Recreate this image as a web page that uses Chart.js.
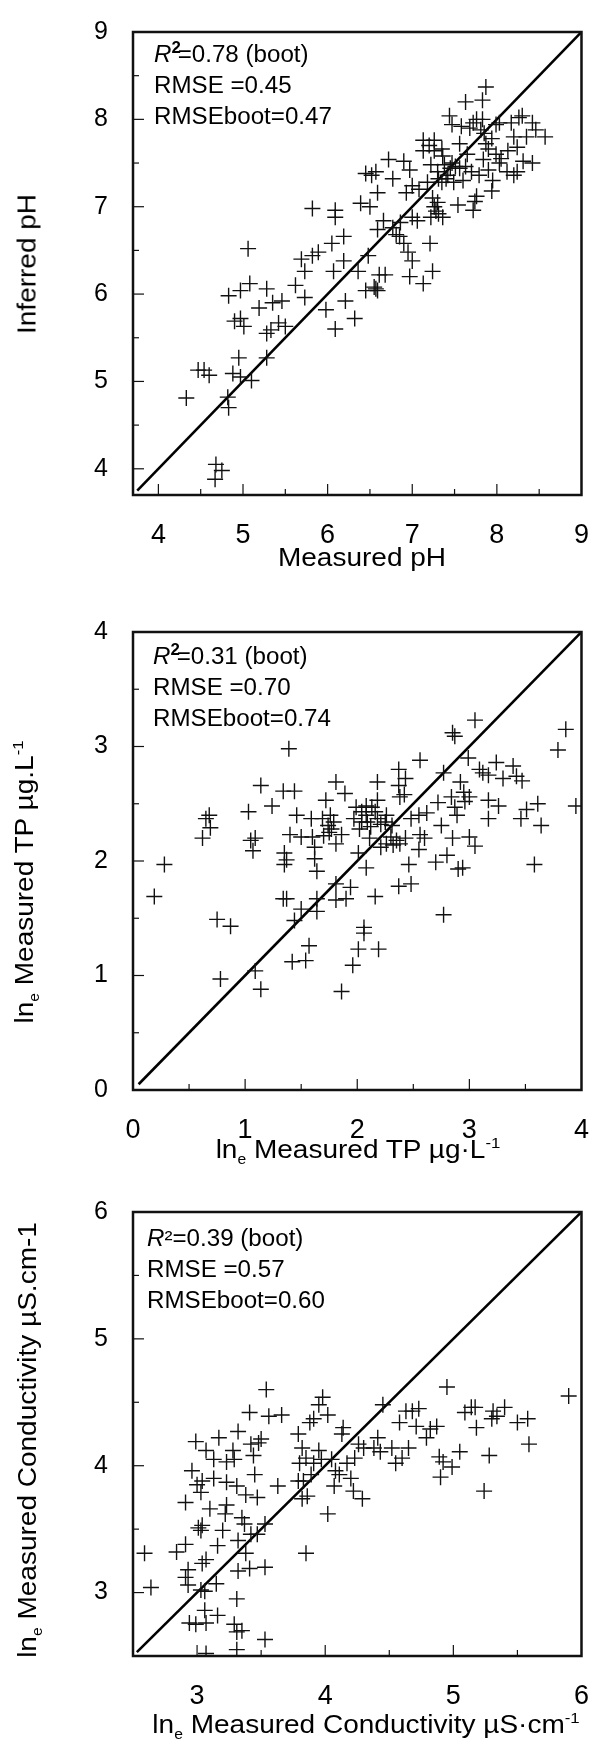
<!DOCTYPE html>
<html>
<head>
<meta charset="utf-8">
<script src="https://cdn.jsdelivr.net/npm/chart.js@4.4.1/dist/chart.umd.min.js"></script>
<style>
  body { margin: 0; background: #fff; }
  #page { position: relative; width: 605px; height: 1739px; overflow: hidden;
          font-family: "Liberation Sans", Arial, sans-serif; color: #000; }
  canvas { position: absolute; left: 0; }
  .tx { position: absolute; white-space: nowrap; font-size: 25px;
        transform: translate(-50%, -50%) scaleX(1.12); }
  .ty { position: absolute; white-space: nowrap; font-size: 25px;
        transform: translate(-50%, -50%) rotate(-90deg) scaleX(1.12); }
  .st { position: absolute; white-space: nowrap; font-size: 23px; line-height: 31px;
        transform: scaleX(1.05); transform-origin: 0 0; }
  .st sup.b { font-weight: bold; font-size: 16px; line-height: 0; margin-right: -3px; }
  sub { font-size: 14px; line-height: 0; }
  sup { font-size: 15px; line-height: 0; }
</style>
</head>
<body>
<div id="page">
  <canvas id="c1" width="605" height="560" style="top:0px"></canvas>
  <canvas id="c2" width="605" height="540" style="top:600px"></canvas>
  <canvas id="c3" width="605" height="530" style="top:1180px"></canvas>

  <div class="st" style="left:154px;top:39px"><i>R</i><sup class="b">2</sup>=0.78 (boot)<br>RMSE =0.45<br>RMSEboot=0.47</div>
  <div class="st" style="left:153px;top:641px"><i>R</i><sup class="b">2</sup>=0.31 (boot)<br>RMSE =0.70<br>RMSEboot=0.74</div>
  <div class="st" style="left:147px;top:1223px"><i>R</i>²=0.39 (boot)<br>RMSE =0.57<br>RMSEboot=0.60</div>

  <div class="tx" style="left:362px;top:557px">Measured pH</div>
  <div class="tx" style="left:358px;top:1149px">ln<sub>e</sub> Measured TP µg·L<sup>-1</sup></div>
  <div class="tx" style="left:366px;top:1724px">ln<sub>e</sub> Measured Conductivity µS·cm<sup>-1</sup></div>

  <div class="ty" style="left:27px;top:264px">Inferred pH</div>
  <div class="ty" style="left:24px;top:882px">ln<sub>e</sub> Measured TP µg.L<sup>-1</sup></div>
  <div class="ty" style="left:27px;top:1440px">ln<sub>e</sub> Measured Conductivity µS.cm-1</div>
</div>

<script>
// --- panel 1 : pH ---
const phRange = [3.7, 9];
const phMajor = [4, 5, 6, 7, 8];
const phMinor = [4.5, 5.5, 6.5, 7.5, 8.5];
const phMeasured = [4.33,4.68,4.75,4.67,4.82,4.83,4.47,4.54,4.60,4.95,4.88,4.97,5.10,5.28,4.83,4.97,5.08,5.28,5.06,4.90,
  4.97,5.01,5.19,5.35,5.46,5.28,5.33,5.42,5.50,5.62,5.73,5.69,5.73,5.82,5.89,5.82,6.09,6.09,5.98,6.09,
  6.21,6.32,6.05,6.19,6.07,6.19,6.36,6.48,6.57,6.59,6.45,6.61,6.68,6.39,6.50,6.59,6.52,6.45,6.57,6.72,
  6.77,6.90,6.97,7.00,6.93,6.59,6.66,6.77,6.81,6.86,6.90,6.95,7.00,6.97,7.00,7.06,7.13,7.24,7.21,7.22,
  7.24,7.26,7.36,7.31,7.38,7.45,7.51,7.31,7.40,7.49,7.26,7.35,7.13,7.20,7.13,7.26,7.22,7.54,7.72,7.74,
  7.76,7.56,7.63,7.70,7.79,7.56,7.58,7.47,7.63,7.83,7.87,7.72,7.76,7.83,7.81,7.85,7.87,7.90,7.94,7.99,
  8.03,8.17,7.99,8.13,8.03,8.20,8.24,8.26,8.30,8.42,8.46,8.35,8.57,8.24,8.20,8.31,8.42,7.94,7.90,7.44,
  7.35,7.42,7.47,7.30,7.18,7.08,7.68,7.65,7.84,8.05,7.30,7.28,6.85,6.55,7.36,7.60,7.95,8.12];
const phInferred = [4.81,4.05,3.98,3.88,4.82,4.70,5.13,5.13,5.07,5.27,5.09,5.05,5.01,5.27,5.98,6.04,6.12,6.06,6.52,5.69,
  5.72,5.63,5.84,5.90,5.92,5.55,5.59,5.67,5.63,6.10,5.96,6.40,6.26,6.44,6.48,6.98,6.96,6.88,5.82,5.60,
  5.92,5.72,6.58,6.66,6.26,6.38,6.26,6.44,6.06,6.04,6.04,6.22,6.22,7.04,7.00,7.16,7.36,7.38,7.40,7.54,
  7.32,7.52,7.42,7.24,7.16,6.74,6.84,6.76,6.68,6.82,6.58,6.48,6.38,6.20,6.88,6.84,6.12,6.26,6.58,6.88,
  7.10,7.00,6.88,6.92,7.48,7.44,7.46,7.32,7.32,7.28,7.64,7.66,7.76,7.70,7.64,7.76,7.48,7.02,6.96,7.06,
  7.12,7.44,7.46,7.40,7.36,7.72,7.92,7.94,8.20,8.22,8.37,7.96,8.00,8.00,7.88,7.84,7.72,7.66,7.78,7.94,
  7.96,7.96,7.60,7.64,7.50,7.80,7.68,8.02,8.04,7.96,7.88,7.80,7.80,7.40,7.36,7.52,7.50,7.18,7.42,8.04,
  7.28,7.36,7.50,7.40,7.28,7.20,7.90,7.60,7.54,7.55,7.05,6.95,6.66,6.08,7.58,7.30,7.30,7.40];

// --- panel 2 : total phosphorus ---
const tpRange = [0, 4];
const tpMajor = [1, 2, 3];
const tpMinor = [0.5, 1.5, 2.5, 3.5];
const tpX = [0.19,0.28,0.62,0.65,0.68,0.69,0.75,0.87,0.78,1.03,1.05,1.07,1.09,1.09,1.14,1.14,1.24,1.34,1.44,1.39,
  1.35,1.35,1.37,1.34,1.37,1.40,1.46,1.50,1.44,1.50,1.42,1.54,1.57,1.59,1.60,1.62,1.62,1.64,1.64,1.64,
  1.69,1.72,1.74,1.77,1.81,1.79,1.76,1.81,1.81,1.81,1.90,1.94,1.86,1.89,1.86,1.96,2.01,2.06,2.06,1.99,
  2.04,2.08,2.13,2.18,2.04,2.09,2.01,2.08,2.11,2.18,2.18,2.25,2.26,2.16,2.19,2.21,2.26,2.30,2.37,2.37,
  2.38,2.43,2.35,2.38,2.43,2.37,2.48,2.46,2.48,2.56,2.55,2.62,2.56,2.60,2.72,2.70,2.77,2.75,2.77,2.80,
  2.85,2.87,2.84,2.87,2.89,2.92,2.94,2.90,2.99,3.00,3.00,3.05,3.05,3.09,3.12,3.17,3.17,3.17,3.24,3.26,
  3.30,3.39,3.42,3.47,3.46,3.51,3.58,3.61,3.64,3.79,3.86,3.95,
  1.97,2.02,2.08,2.16,2.21,2.31,2.12,1.75,1.70,2.95,2.55,2.32,2.42,2.96,2.85];
const tpY = [1.69,1.97,2.20,2.37,2.40,2.29,1.49,1.43,0.97,2.43,2.18,2.09,2.20,1.04,0.88,2.66,2.48,2.61,2.61,2.98,
  2.07,1.97,2.01,1.67,1.67,2.23,2.40,2.21,1.48,1.58,1.12,1.13,1.26,2.37,2.21,2.12,2.02,1.91,1.67,1.56,
  2.37,2.53,2.31,2.28,2.69,2.34,2.40,2.15,1.80,1.66,1.67,1.77,0.86,2.59,2.23,1.09,1.23,1.37,1.42,2.47,
  2.43,2.40,2.47,2.37,2.34,2.34,2.07,1.94,2.20,2.69,2.53,2.34,2.40,1.69,1.23,2.12,2.15,2.21,2.80,2.66,
  2.56,2.72,2.18,2.15,2.20,1.78,1.80,1.97,2.37,2.88,2.40,2.42,2.23,2.20,2.51,1.99,2.77,2.31,1.53,2.05,
  3.12,3.09,2.56,2.47,2.40,2.69,1.94,1.93,2.90,2.56,2.21,2.13,3.23,2.80,2.77,2.75,2.53,2.37,2.86,2.48,
  2.72,2.83,2.74,2.70,2.37,2.45,1.97,2.50,2.31,2.97,3.15,2.48,
  2.37,2.28,2.48,2.43,2.32,2.31,2.30,2.25,2.22,2.60,2.10,2.14,2.58,2.52,2.20];

// --- panel 3 : conductivity ---
const condRange = [2.5, 6];
const condMajor = [3, 4, 5];
const condMinor = [3.5, 4.5, 5.5];
const condX = [2.59,2.64,2.84,2.91,2.91,2.93,2.91,2.93,2.94,2.99,2.96,2.99,3.01,3.03,3.04,3.00,3.04,3.03,3.04,3.07,
  3.03,3.06,3.06,3.07,3.07,3.07,3.10,3.13,3.13,3.16,3.15,3.16,3.17,3.20,3.22,3.23,3.23,3.23,3.28,3.29,
  3.31,3.32,3.32,3.32,3.31,3.29,3.31,3.31,3.35,3.35,3.37,3.38,3.38,3.41,3.41,3.42,3.44,3.45,3.47,3.48,
  3.50,3.42,3.47,3.53,3.53,3.53,3.54,3.56,3.66,3.63,3.79,3.82,3.85,3.79,3.80,3.83,3.85,3.82,3.86,3.88,
  3.91,3.95,3.98,4.02,3.89,3.91,3.95,3.97,4.02,4.05,4.08,4.07,4.11,4.13,4.14,4.17,4.20,4.22,4.23,4.26,
  4.29,4.30,4.38,4.41,4.43,4.45,4.52,4.55,4.58,4.60,4.63,4.65,4.68,4.71,4.73,4.79,4.82,4.87,4.89,4.90,
  4.92,4.95,4.99,5.05,5.09,5.14,5.18,5.17,5.24,5.28,5.30,5.31,5.34,5.40,5.50,5.58,5.59,5.90];
const condY = [3.31,3.04,3.32,3.38,3.71,3.18,3.12,3.06,2.76,2.75,3.96,4.19,3.51,3.49,3.53,3.85,3.88,3.79,3.23,3.26,
  3.02,3.01,2.86,2.76,2.52,4.12,3.66,4.05,3.90,3.37,3.07,2.82,4.22,3.49,3.62,3.69,3.87,4.03,4.12,4.05,
  3.84,4.27,3.41,3.17,2.95,2.75,2.69,2.55,2.70,3.59,3.54,3.31,3.77,3.19,4.42,4.17,4.08,3.93,3.75,4.18,
  4.21,3.46,3.46,3.54,3.20,2.63,4.60,4.39,4.40,3.84,4.25,4.14,4.06,3.88,4.02,3.88,3.31,3.74,3.76,4.34,
  4.37,4.48,4.54,4.40,3.93,4.02,4.12,4.05,3.62,4.05,3.96,3.84,3.93,4.25,4.30,4.02,3.90,3.80,4.06,4.17,
  3.74,4.14,4.14,4.22,4.11,4.48,4.14,4.02,4.34,4.06,4.43,4.14,4.43,4.31,4.45,4.22,4.29,4.31,4.07,3.91,
  4.03,4.62,3.99,4.11,4.42,4.46,4.30,4.46,3.80,4.08,4.37,4.43,4.39,4.46,4.34,4.37,4.17,4.55];

// 枠と内向きの目盛りを描く
const framePlugin = {
  id: 'frame',
  afterDatasetsDraw(chart, args, opts) {
    const { ctx, chartArea: a, scales } = chart;
    const x = scales.x, y = scales.y;
    ctx.save();
    ctx.strokeStyle = '#111';
    ctx.lineWidth = 1.2;
    const seg = (x1, y1, x2, y2) => { ctx.beginPath(); ctx.moveTo(x1, y1); ctx.lineTo(x2, y2); ctx.stroke(); };
    opts.major.forEach(v => {
      seg(x.getPixelForValue(v), a.bottom, x.getPixelForValue(v), a.bottom - 11);
      seg(a.left, y.getPixelForValue(v), a.left + 11, y.getPixelForValue(v));
    });
    opts.minor.forEach(v => {
      seg(x.getPixelForValue(v), a.bottom, x.getPixelForValue(v), a.bottom - 6);
      seg(a.left, y.getPixelForValue(v), a.left + 6, y.getPixelForValue(v));
    });
    ctx.lineWidth = 2.5;
    ctx.strokeRect(a.left, a.top, a.right - a.left, a.bottom - a.top);
    ctx.restore();
  }
};

function makePanel(id, xs, ys, range, lineStart, major, minor, pad, xAxisH) {
  const pts = xs.map((v, i) => ({ x: v, y: ys[i] }));
  const tickFont = { family: '"Liberation Sans", Arial, sans-serif' };
  return new Chart(document.getElementById(id), {
    type: 'scatter',
    data: {
      datasets: [{
        data: pts,
        pointStyle: 'cross',
        pointRadius: 8,
        pointHoverRadius: 8,
        borderWidth: 1.4,
        borderColor: '#111',
        backgroundColor: '#111'
      }, {
        data: [{ x: lineStart, y: lineStart }, { x: range[1], y: range[1] }],
        showLine: true,
        borderColor: '#000',
        borderWidth: 2.6,
        pointRadius: 0
      }]
    },
    options: {
      responsive: false,
      animation: false,
      events: [],
      layout: { padding: pad },
      plugins: {
        legend: { display: false },
        tooltip: { enabled: false },
        frame: { major: major, minor: minor }
      },
      scales: {
        x: {
          type: 'linear', min: range[0], max: range[1],
          grid: { display: false }, border: { display: false },
          ticks: { stepSize: 1, includeBounds: false, autoSkip: false, maxRotation: 0,
                   padding: 16, color: '#000', font: { ...tickFont, size: 27 } },
          afterFit: s => { s.height = xAxisH; }
        },
        y: {
          type: 'linear', min: range[0], max: range[1],
          grid: { display: false }, border: { display: false },
          ticks: { stepSize: 1, includeBounds: false, autoSkip: false,
                   padding: 17, color: '#000', font: { ...tickFont, size: 25 } },
          afterFit: s => { s.width = 133; }
        }
      }
    },
    plugins: [framePlugin]
  });
}

makePanel('c1', phMeasured, phInferred, phRange, 3.75, phMajor, phMinor,
  { top: 21, right: 17, left: 0, bottom: 0 }, 65);
makePanel('c2', tpX, tpY, tpRange, 0.05, tpMajor, tpMinor,
  { top: 24, right: 14, left: 0, bottom: 0 }, 50);
makePanel('c3', condX, condY, condRange, 2.53, condMajor, condMinor,
  { top: 25, right: 10, left: 0, bottom: 0 }, 54);
</script>
</body>
</html>
